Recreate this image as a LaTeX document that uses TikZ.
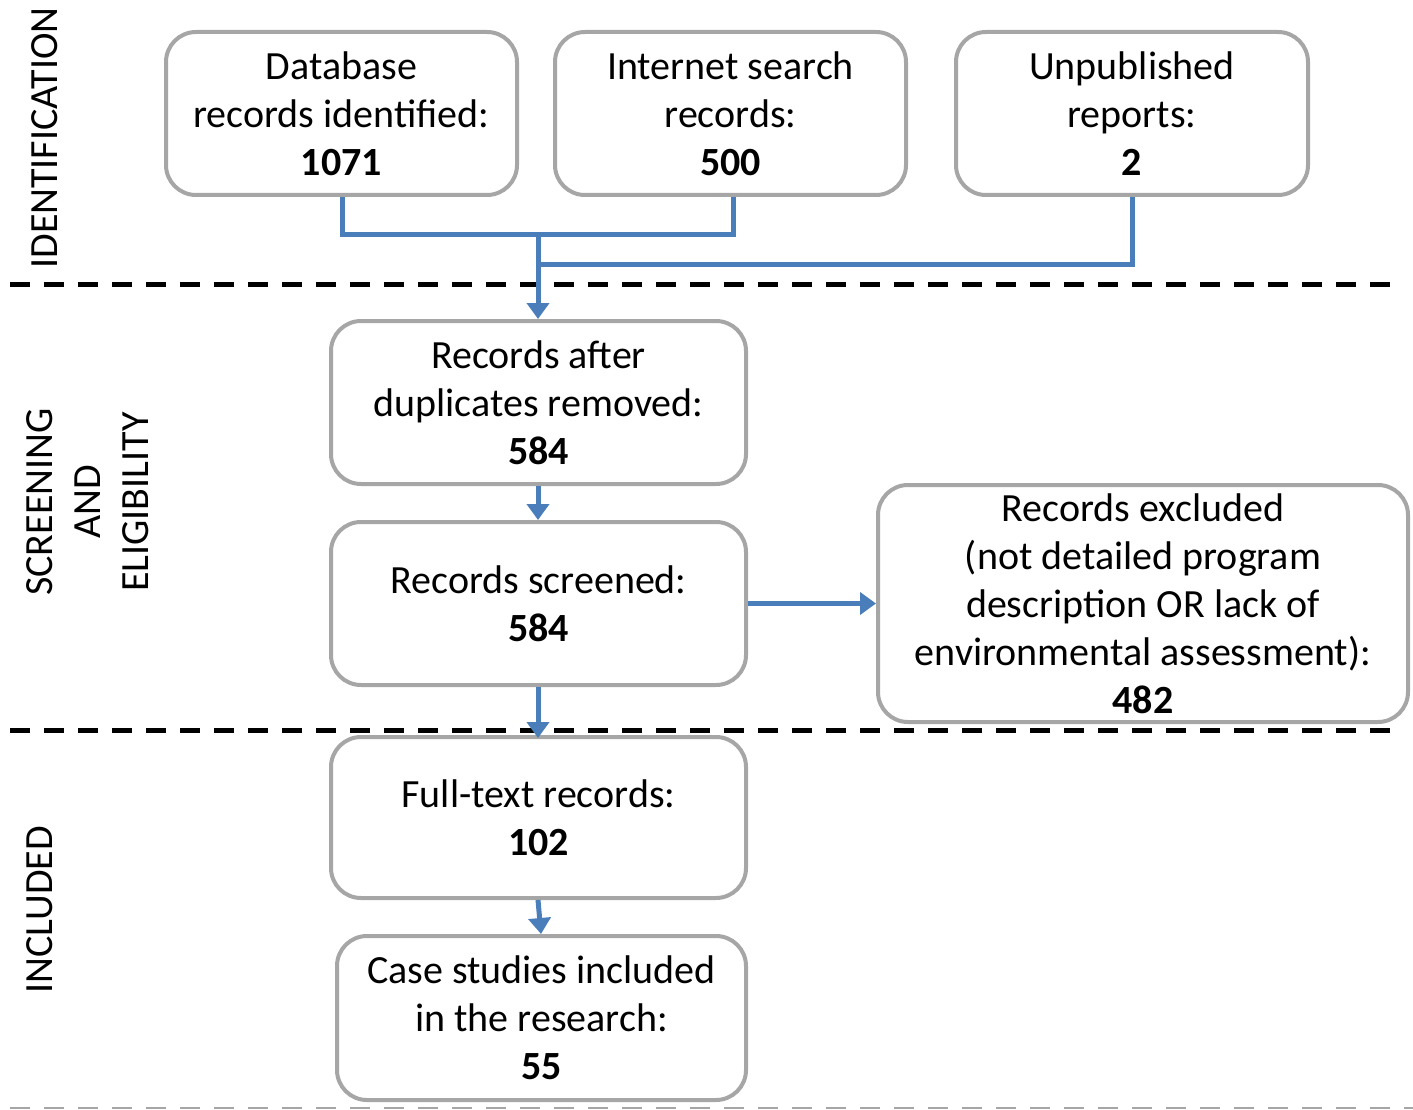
\documentclass[tikz,border=0pt]{standalone}
\usepackage{fontspec}
\setmainfont{Carlito}
\usetikzlibrary{arrows.meta}
\definecolor{boxgray}{HTML}{A6A6A6}
\definecolor{flowblue}{HTML}{4A7EBB}
\tikzset{
  stepbox/.style={draw=boxgray, line width=4pt, rounded corners=30pt, fill=white,
    align=center, inner sep=0pt, font=\fontsize{40}{48}\selectfont},
  flow/.style={draw=flowblue, line width=5pt},
  flowarrow/.style={flow, -{Triangle[length=16pt,width=22pt]}},
  phase/.style={draw=black, line width=5pt, dash pattern=on 20pt off 14pt},
  sidelabel/.style={rotate=90, align=center, font=\fontsize{40}{48}\selectfont}
}
\begin{document}
\begin{tikzpicture}[x=1pt,y=-1pt]
\useasboundingbox (0,0) rectangle (1413,1110);
% phase separators
\coordinate (d1a) at (10,284); \coordinate (d1b) at (1392,284);
\coordinate (d2a) at (10,730); \coordinate (d2b) at (1392,730);
\coordinate (d3a) at (10,1108); \coordinate (d3b) at (1413,1108);
\draw[phase] (d1a) -- (d1b);
\draw[phase] (d2a) -- (d2b);
\draw[draw=boxgray, line width=2.5pt, dash pattern=on 20pt off 14pt] (d3a) -- (d3b);
% side labels
\node[sidelabel] (lid) at (45,138) {IDENTIFICATION};
\node[sidelabel] (lse) at (88,502) {SCREENING\\AND\\ELIGIBILITY};
\node[sidelabel] (lin) at (40,910) {INCLUDED};
% boxes
\node[stepbox, minimum width=351pt, minimum height=163pt] (b1) at (341.5,113.5)
  {Database\\records identified:\\\textbf{1071}};
\node[stepbox, minimum width=351pt, minimum height=163pt] (b2) at (730.5,113.5)
  {Internet search\\records:\\\textbf{500}};
\node[stepbox, minimum width=352pt, minimum height=163pt] (b3) at (1132,113.5)
  {Unpublished\\reports:\\\textbf{2}};
\node[stepbox, minimum width=415pt, minimum height=163pt] (b4) at (538.5,402.5)
  {Records after\\duplicates removed:\\\textbf{584}};
\node[stepbox, minimum width=415pt, minimum height=163pt] (b5) at (538.5,603.5)
  {Records screened:\\\textbf{584}};
\node[stepbox, minimum width=530pt, minimum height=237pt] (b6) at (1143,603.5)
  {Records excluded\\(not detailed program\\description OR lack of\\environmental assessment):\\\textbf{482}};
\node[stepbox, minimum width=415pt, minimum height=161pt] (b7) at (538.5,817.5)
  {Full-text records:\\\textbf{102}};
\node[stepbox, minimum width=409pt, minimum height=164pt] (b8) at (541.5,1018)
  {Case studies included\\in the research:\\\textbf{55}};
% connectors
\coordinate (j1) at (538,234);
\coordinate (j2) at (538,264);
\draw[flow] ([xshift=0.5pt]b1.south) |- (j1) -| ([xshift=2.5pt]b2.south);
\draw[flow] (b3.south) |- (j2);
\draw[flowarrow] (j1) -- (b4.north -| j1);
\draw[flowarrow] (b4.south -| j1) -- (b5.north -| j1);
\draw[flowarrow] (b5.east) -- (b6.west);
\draw[flowarrow] (b5.south -| j1) -- ([yshift=-3pt]b7.north -| j1);
\draw[flowarrow] (b7.south -| j1) -- (b8.north -| 541,0);
\end{tikzpicture}
\end{document}
